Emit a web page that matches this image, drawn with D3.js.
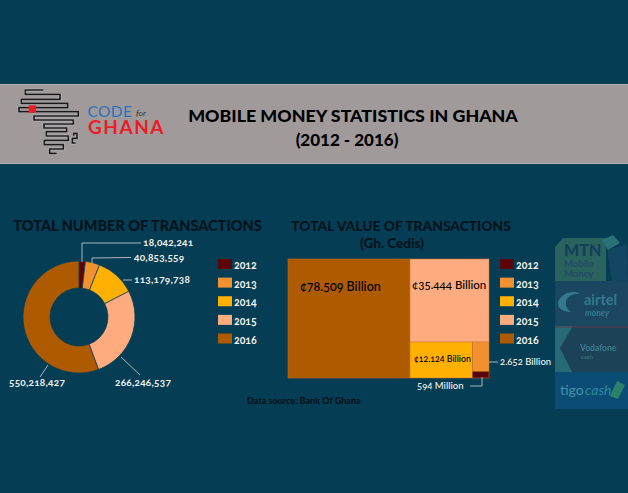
<!DOCTYPE html>
<html>
<head>
<meta charset="utf-8">
<script src="https://cdn.jsdelivr.net/npm/d3@7"></script>
<style>
  html, body { margin: 0; padding: 0; background: #053d54; }
  svg { display: block; }
  text { font-family: Lato, "Open Sans", sans-serif; }
  .num { font-variant-numeric: oldstyle-nums; }
</style>
</head>
<body>
<div id="chart"></div>
<script>
var width = 628, height = 493;

var years = ["2012", "2013", "2014", "2015", "2016"];
var colors = ["#5a0508", "#f29130", "#ffb000", "#ffab80", "#ad5a00"];
var transactionCounts = [18042241, 40853559, 113179738, 266246537, 550218427];
var transactionLabels = ["18,042,241", "40,853,559", "113,179,738", "266,246,537", "550,218,427"];
var transactionValues = [0.594, 2.652, 12.124, 35.444, 78.509];
var valueLabels = ["594 Million", "2.652 Billion", "¢12.124 Billion", "¢35.444 Billion", "¢78.509 Billion"];

var color = d3.scaleOrdinal().domain(years).range(colors);

var svg = d3.select("#chart").append("svg")
    .attr("width", width)
    .attr("height", height);

svg.append("rect").attr("width", width).attr("height", height).attr("fill", "#053d54");

// header band
svg.append("rect")
    .attr("x", -2).attr("y", 84.5)
    .attr("width", width + 4).attr("height", 79)
    .attr("fill", "#a09a9b")
    .attr("stroke", "#b4aeaf");

// logo
var logo = svg.append("g").attr("transform", "translate(15,85) scale(0.3333)");
var logoLines = [
  "M85,15 H31 V28 H135 V43 H19 V55 H158 V68 H12 V80 H190 V93 H57 V105 H175 V117 H87 V129 H155 V140 H94 V153 H160 V166 H88 V179 H145 V192 H104 V205 H125",
  "M188,145 H176 V152 M186,145 V160 H172 V174 H182"
];
logo.selectAll("path.halo")
    .data(logoLines)
    .enter().append("path")
    .attr("class", "halo")
    .attr("d", function(d) { return d; })
    .attr("fill", "none")
    .attr("stroke", "#c8c4c5")
    .attr("stroke-width", 8);
logo.selectAll("path.line")
    .data(logoLines)
    .enter().append("path")
    .attr("class", "line")
    .attr("d", function(d) { return d; })
    .attr("fill", "none")
    .attr("stroke", "#1a1a1c")
    .attr("stroke-width", 5);
logo.append("rect")
    .attr("x", 41).attr("y", 61).attr("width", 22).attr("height", 22)
    .attr("fill", "#ee1c25");

svg.append("text")
    .attr("x", 87.5).attr("y", 116.5)
    .attr("font-size", 15.5)
    .attr("letter-spacing", 0.4)
    .attr("fill", "#2a73b8")
    .text("CODE");
svg.append("text")
    .attr("x", 136).attr("y", 115.5)
    .attr("font-size", 8.5)
    .attr("font-style", "italic")
    .attr("fill", "#333")
    .text("for");
svg.append("text")
    .attr("x", 88).attr("y", 134)
    .attr("font-size", 19)
    .attr("font-weight", 700)
    .attr("letter-spacing", 1.5)
    .attr("fill", "#ee1c25")
    .text("GHANA");

svg.append("text")
    .attr("x", 353).attr("y", 122)
    .attr("text-anchor", "middle")
    .attr("font-size", 17.8)
    .attr("font-weight", 900)
    .attr("fill", "#000")
    .text("MOBILE MONEY STATISTICS IN GHANA");
svg.append("text")
    .attr("x", 347).attr("y", 146)
    .attr("text-anchor", "middle")
    .attr("font-size", 17)
    .attr("font-weight", 900)
    .attr("fill", "#000")
    .text("(2012 - 2016)");

// section titles
svg.append("text")
    .attr("x", 137.5).attr("y", 231)
    .attr("text-anchor", "middle")
    .attr("font-size", 14.5)
    .attr("font-weight", 900)
    .attr("fill", "#04131c")
    .text("TOTAL NUMBER OF TRANSACTIONS");
svg.append("text")
    .attr("x", 401).attr("y", 231)
    .attr("text-anchor", "middle")
    .attr("font-size", 13.8)
    .attr("font-weight", 900)
    .attr("fill", "#04131c")
    .text("TOTAL VALUE OF TRANSACTIONS");
svg.append("text")
    .attr("x", 392).attr("y", 248)
    .attr("text-anchor", "middle")
    .attr("font-size", 13.5)
    .attr("font-weight", 900)
    .attr("fill", "#04131c")
    .text("(Gh. Cedis)");

// donut
var donut = svg.append("g").attr("transform", "translate(79,317)");
var outerR = 56, innerR = 29;
var pie = d3.pie().sort(null)(transactionCounts);
var arc = d3.arc().innerRadius(innerR).outerRadius(outerR);

donut.selectAll("path.slice")
    .data(pie)
    .enter().append("path")
    .attr("class", "slice")
    .attr("d", arc)
    .attr("fill", function(d, i) { return colors[i]; })
    .attr("stroke", "#053d54")
    .attr("stroke-width", 0.7);

// label and leader of each slice, relative to the donut centre
var donutLabelPos = [[64, -71], [55, -56], [55, -34], [36, 69], [-70, 69]];
var donutLeaders = [
  [[3, -55], [3, -74], [62, -74]],
  [[13, -54], [13, -59], [52, -59.5]],
  [[44, -37], [53, -37]],
  [[42, 40], [61, 58]],
  [[-31, 48], [-39, 60]]
];

var leaderLine = d3.line();
donut.selectAll("path.leader")
    .data(donutLeaders)
    .enter().append("path")
    .attr("class", "leader")
    .attr("d", function(d) { return leaderLine(d); })
    .attr("fill", "none")
    .attr("stroke", "#a9b7bd")
    .attr("stroke-width", 1);
donut.selectAll("text")
    .data(transactionLabels)
    .enter().append("text")
    .attr("class", "num")
    .attr("x", function(d, i) { return donutLabelPos[i][0]; })
    .attr("y", function(d, i) { return donutLabelPos[i][1]; })
    .attr("font-size", 10)
    .attr("font-weight", 700)
    .attr("letter-spacing", 0.25)
    .attr("fill", "#f4f1ee")
    .text(function(d) { return d; });

// legends
function legend(x) {
  var y = d3.scalePoint().domain(years).range([259, 333.5]);
  var g = svg.append("g");
  g.selectAll("rect")
      .data(years)
      .enter().append("rect")
      .attr("x", x)
      .attr("y", function(d) { return y(d); })
      .attr("width", 14)
      .attr("height", 10)
      .attr("fill", function(d) { return color(d); });
  g.selectAll("text")
      .data(years)
      .enter().append("text")
      .attr("class", "num")
      .attr("x", x + 16)
      .attr("y", function(d) { return y(d) + 10; })
      .attr("font-size", 10.5)
      .attr("font-weight", 700)
      .attr("fill", "#f4f1ee")
      .text(function(d) { return d; });
}
legend(218);
legend(500);

// treemap, nested so each level splits off the largest year
var tree = {
  name: "all",
  children: [
    { name: "2016", value: transactionValues[4] },
    { name: "rest", children: [
      { name: "2015", value: transactionValues[3] },
      { name: "small", children: [
        { name: "2014", value: transactionValues[2] },
        { name: "tiny", children: [
          { name: "2013", value: transactionValues[1] },
          { name: "2012", value: transactionValues[0] }
        ] }
      ] }
    ] }
  ]
};

var root = d3.hierarchy(tree).sum(function(d) { return d.value || 0; });
d3.treemap()
    .tile(d3.treemapSliceDice)
    .size([201, 119])(root);

var map = svg.append("g").attr("transform", "translate(288,259)");
map.selectAll("rect")
    .data(root.leaves())
    .enter().append("rect")
    .attr("x", function(d) { return d.x0; })
    .attr("y", function(d) { return d.y0; })
    .attr("width", function(d) { return d.x1 - d.x0; })
    .attr("height", function(d) { return d.y1 - d.y0; })
    .attr("fill", function(d) { return color(d.data.name); })
    .attr("stroke", "#c9762a")
    .attr("stroke-width", 0.5);

function mapLabel(i, x, y, size, fill) {
  svg.append("text")
      .attr("class", "num")
      .attr("x", x).attr("y", y)
      .attr("font-size", size)
      .attr("font-weight", 500)
      .attr("fill", fill)
      .text(valueLabels[i]);
}
mapLabel(4, 300, 291, 12.5, "#000");
mapLabel(3, 412, 289, 11.5, "#000");
mapLabel(2, 414, 362, 8.8, "#000");
mapLabel(1, 500, 365, 9.5, "#f4f1ee");
mapLabel(0, 417, 389, 9.5, "#f4f1ee");

svg.append("path")
    .attr("d", "M489,362 H498 M470,386 H482 V377")
    .attr("fill", "none")
    .attr("stroke", "#a9b7bd")
    .attr("stroke-width", 1);

svg.append("text")
    .attr("x", 247).attr("y", 404)
    .attr("font-size", 9)
    .attr("font-weight", 900)
    .attr("fill", "#04131c")
    .text("Data source: Bank Of Ghana");

// faded operator logos on the right
var brands = svg.append("g");
function shape(d, fill) {
  brands.append("path").attr("d", d).attr("fill", fill);
}
shape("M555,281 V247 L563,238 H606 V281 Z", "#2a625e");
shape("M607,250 L627,245 L628,281 L612,281 Z", "#134662");
shape("M602,240 L613,235 L620,243 L608,250 Z", "#2b7276");
shape("M606,281 H628 V326 H555 V281 Z", "#1a4660");
shape("M555,326 H628 V372 H555 Z", "#1c4258");
shape("M555,326 H573 L560,348 L572,372 H555 Z", "#266a76");
shape("M555,326.5 H628 V327.5 H555 Z", "#5e3a48");
shape("M555,372 H628 V409 H555 Z", "#0a4c74");
shape("M558,302 C562,292 574,290 581,294 C572,293 565,298 566,304 C566,308 569,311 572,312 C564,312 557,309 558,302 Z", "#33788c");
shape("M610,396 L617,381 L625,385 L618,399 Z", "#2a8068");

function brandText(s, x, y, size, fill, weight, style) {
  brands.append("text")
      .attr("x", x).attr("y", y)
      .attr("font-size", size)
      .attr("font-weight", weight)
      .attr("font-style", style || "normal")
      .attr("fill", fill)
      .text(s);
}
brandText("MTN", 564, 256, 16, "#12405a", 900);
brandText("Mobile", 564, 266.5, 9.5, "#234a68", 700);
brandText("Money", 564, 277, 9.5, "#234a68", 700);
brandText("airtel", 584, 305, 14.5, "#33788c", 700);
brandText("money", 585, 316, 8.5, "#33788c", 700, "italic");
brandText("Vodafone", 580, 351, 8.5, "#3f7a8e", 700);
brandText("cash", 581, 359, 6, "#3f7a8e", 400);
brandText("tigo", 560, 395, 14, "#4693b0", 400);
brandText("cash", 585, 395, 14, "#2a8aa0", 400, "italic");
</script>
</body>
</html>
